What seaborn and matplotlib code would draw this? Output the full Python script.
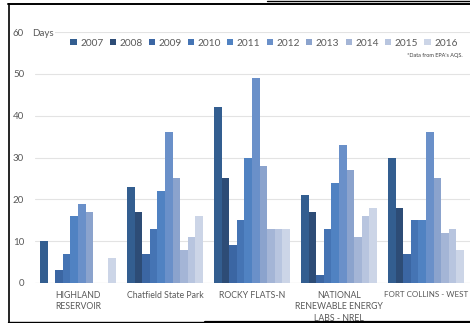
import matplotlib
matplotlib.use("Agg")
import matplotlib.pyplot as plt
from matplotlib.lines import Line2D
from matplotlib.patches import Patch
import seaborn as sns
import pandas as pd

# Days per year exceeding the ozone standard at each monitoring site
sites = ["HIGHLAND\nRESERVOIR", "Chatfield State Park", "ROCKY FLATS-N",
         "NATIONAL\nRENEWABLE ENERGY\nLABS - NREL", "FORT COLLINS - WEST"]
years = ["2007", "2008", "2009", "2010", "2011", "2012", "2013", "2014", "2015", "2016"]
highland = [10, 0, 3, 7, 16, 19, 17, 0, 0, 6]
chatfield = [23, 17, 7, 13, 22, 36, 25, 8, 11, 16]
rocky_flats = [42, 25, 9, 15, 30, 49, 28, 13, 13, 13]
nrel = [21, 17, 2, 13, 24, 33, 27, 11, 16, 18]
fort_collins = [30, 18, 7, 15, 15, 36, 25, 12, 13, 8]
y_ticks = [0, 10, 20, 30, 40, 50, 60]

palette = ["#335E90", "#2D4C76", "#3B66A3", "#4574B4", "#5082C2",
           "#6A90C9", "#8BA3CD", "#A4B5D6", "#B8C5DF", "#CCD5E7"]

rows = []
for site, vals in zip(sites, [highland, chatfield, rocky_flats, nrel, fort_collins]):
    for yr, v in zip(years, vals):
        rows.append({"site": site, "year": yr, "days": v})
df = pd.DataFrame(rows)

sns.set_theme(style="white")
plt.rcParams["font.family"] = ["Lato", "DejaVu Sans"]

W, H = 470, 323
fig = plt.figure(figsize=(W / 100, H / 100), dpi=100)
ax = fig.add_axes([34.5 / W, 1 - 283 / H, 435 / W, 251 / H])

sns.barplot(data=df, x="site", y="days", hue="year", order=sites, hue_order=years,
            palette=palette, width=0.874, gap=0, saturation=1, ax=ax,
            legend=False, linewidth=0)

ax.set_ylim(0, 60)
ax.set_xlim(-0.5, 4.5)
ax.set_yticks(y_ticks)
ax.set_yticklabels([str(t) for t in y_ticks])
ax.grid(axis="y", color="#E3E3E3", linewidth=0.8)
ax.set_axisbelow(True)
for s in ax.spines.values():
    s.set_visible(False)
ax.axhline(0, color="#D9D9D9", linewidth=0.8, zorder=0.5)
ax.set_xlabel("")
ax.set_ylabel("")
ax.tick_params(axis="both", length=0, colors="#595959")
ax.tick_params(axis="y", pad=7.5, labelsize=7)
ax.tick_params(axis="x", pad=6, labelsize=6.3)
for lab in ax.get_xticklabels():
    lab.set_linespacing(1.3)
    if lab.get_text().startswith("FORT"):
        lab.set_fontsize(5.8)

# Unit label beside the top tick
ax.annotate("Days", xy=(0, 60), xycoords=("axes fraction", "data"),
            xytext=(-2, 0), textcoords="offset points",
            fontsize=7, color="#595959", va="center_baseline", ha="left",
            bbox=dict(facecolor="white", edgecolor="none", pad=1.5), zorder=5,
            annotation_clip=False)

handles = [Patch(facecolor=c, edgecolor="none") for c in palette]
fig.legend(handles, years, loc="center", bbox_to_anchor=(264 / W, 1 - 43 / H),
           ncol=10, frameon=False, fontsize=7.3, handlelength=0.6, handleheight=0.6,
           handletextpad=0.35, columnspacing=0.62, labelcolor="#595959",
           borderpad=0, borderaxespad=0)

fig.text(463 / W, 1 - 56 / H, "*Data from EPA's AQS.", fontsize=4, color="#404040",
         ha="right", va="center")

# Outer frame
def fline(x0, y0, x1, y1, lw):
    fig.add_artist(Line2D([x0 / W, x1 / W], [1 - y0 / H, 1 - y1 / H],
                          color="black", linewidth=lw, transform=fig.transFigure))

fline(8.5, 3.5, 8.5, 322.5, 1.2)
fline(8, 4, 470, 4, 1.4)
fline(267, 1, 470, 1, 1.0)
fline(8, 322, 470, 322, 1.0)
fline(205, 322.3, 470, 322.3, 1.6)

fig.savefig("out.png", dpi=100)
